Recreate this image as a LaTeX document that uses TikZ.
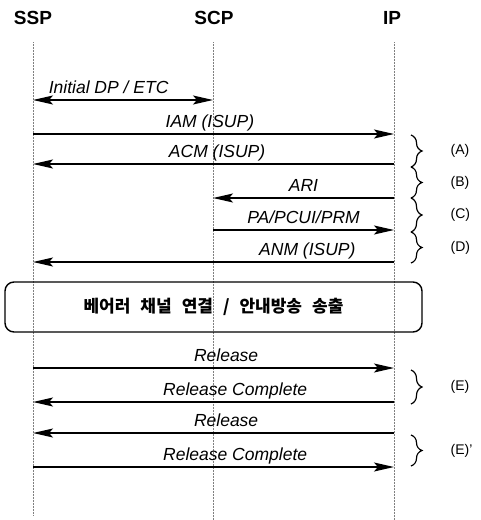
\documentclass[tikz,border=0pt]{standalone}
\usepackage{fontspec}
\setmainfont{Liberation Sans}
\newfontfamily\krfont{Noto Sans CJK KR}
\usetikzlibrary{arrows.meta,decorations.pathreplacing}
\tikzset{
  lifeline/.style={densely dotted,black!50,line width=.5pt},
  msg/.style={line width=1.4pt,->},
  lbl/.style={font=\fontsize{17.5}{19}\selectfont\itshape,inner sep=0pt,anchor=base,yshift=7pt},
  head/.style={font=\fontsize{19}{21}\selectfont\bfseries},
  brc/.style={decorate,decoration={brace,amplitude=11pt},line width=1.2pt},
  tag/.style={font=\fontsize{14}{16}\selectfont,inner sep=0pt,right=39pt}
}
\begin{document}
\begin{tikzpicture}[x=1pt,y=-1pt,>={Stealth[length=20pt,width=9pt,inset=4pt]}]
  \useasboundingbox (0,0) rectangle (481,520);
  % entities
  \node[head] (ssp) at (33,18) {SSP};
  \node[head] (scp) at (214,18) {SCP};
  \node[head] (ip) at (392,18) {IP};
  \coordinate (ssp-t) at (33,42);  \coordinate (ssp-b) at (33,515);
  \coordinate (scp-t) at (213,42); \coordinate (scp-b) at (213,520);
  \coordinate (ip-t) at (394,42);  \coordinate (ip-b) at (394,520);
  \draw[lifeline] (ssp-t)--(ssp-b);
  \draw[lifeline] (scp-t)--(scp-b);
  \draw[lifeline] (ip-t)--(ip-b);
  % messages
  \coordinate (idp-a) at (33,100);  \coordinate (idp-b) at (213,100);
  \coordinate (iam-a) at (33,134);  \coordinate (iam-b) at (394,134);
  \coordinate (acm-a) at (394,164); \coordinate (acm-b) at (33,164);
  \coordinate (ari-a) at (394,198); \coordinate (ari-b) at (213,198);
  \coordinate (pa-a) at (213,230);  \coordinate (pa-b) at (394,230);
  \coordinate (anm-a) at (394,262); \coordinate (anm-b) at (33,262);
  \draw[msg,<->] (idp-a) -- node[lbl,pos=.42] {Initial DP / ETC} (idp-b);
  \draw[msg] (iam-a) -- node[lbl,pos=.49] {IAM (ISUP)} (iam-b);
  \draw[msg] (acm-a) -- node[lbl,pos=.49] {ACM (ISUP)} (acm-b);
  \draw[msg] (ari-a) -- node[lbl] {ARI} (ari-b);
  \draw[msg] (pa-a) -- node[lbl] {PA/PCUI/PRM} (pa-b);
  \draw[msg] (anm-a) -- node[lbl,pos=.24] {ANM (ISUP)} (anm-b);
  % bearer
  \node[draw,line width=1.4pt,rounded corners=9pt,minimum width=417pt,minimum height=50pt,
    font=\krfont\bfseries\fontsize{17}{19}\selectfont] (bearer) at (213.5,307)
    {베어러\hspace{10pt}채널\hspace{10pt}연결\hspace{10pt}/\hspace{10pt}안내방송\hspace{10pt}송출};
  % release
  \coordinate (rel1-a) at (33,368);  \coordinate (rel1-b) at (394,368);
  \coordinate (rlc1-a) at (394,402); \coordinate (rlc1-b) at (33,402);
  \coordinate (rel2-a) at (394,433); \coordinate (rel2-b) at (33,433);
  \coordinate (rlc2-a) at (33,467);  \coordinate (rlc2-b) at (394,467);
  \draw[msg] (rel1-a) -- node[lbl,pos=.535] {Release} (rel1-b);
  \draw[msg] (rlc1-a) -- node[lbl,pos=.44] {Release Complete} (rlc1-b);
  \draw[msg] (rel2-a) -- node[lbl,pos=.465] {Release} (rel2-b);
  \draw[msg] (rlc2-a) -- node[lbl,pos=.56] {Release Complete} (rlc2-b);
  % braces
  \coordinate (b1) at (411,135); \coordinate (b2) at (411,167);
  \coordinate (b3) at (411,198); \coordinate (b4) at (411,232);
  \coordinate (b5) at (411,263);
  \coordinate (e1) at (411,370); \coordinate (e2) at (411,404);
  \coordinate (e3) at (411,435); \coordinate (e4) at (411,466);
  \draw[brc] (b1) -- node[tag] {(A)} (b2);
  \draw[brc] (b2) -- node[tag] {(B)} (b3);
  \draw[brc] (b3) -- node[tag] {(C)} (b4);
  \draw[brc] (b4) -- node[tag] {(D)} (b5);
  \draw[brc] (e1) -- node[tag] {(E)} (e2);
  \draw[brc] (e3) -- node[tag] {(E)'} (e4);
\end{tikzpicture}
\end{document}
